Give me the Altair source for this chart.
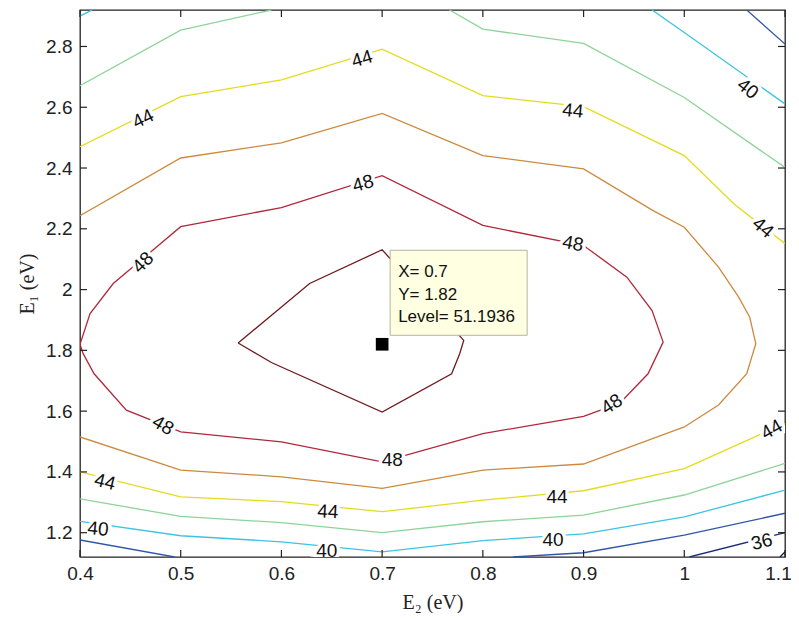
import altair as alt
import pandas as pd

# ---------------- data ----------------
LEVELS = [34, 36, 38, 40, 42, 44, 46, 48, 50]
LEVEL_COLORS = ["#12124e", "#1c2c78", "#2f55a8", "#3cc4e0", "#8ed49a",
                "#e3dc1c", "#cc8a3e", "#b0283a", "#6e1a1e"]

# level 50 (closed, innermost)
C50_X = [0.557, 0.628, 0.700, 0.781, 0.777, 0.769, 0.700, 0.590, 0.557]
C50_Y = [1.824, 2.020, 2.131, 1.833, 1.789, 1.723, 1.597, 1.760, 1.824]
# level 48 (closed, touches left edge)
C48_X = [0.400, 0.410, 0.433, 0.500, 0.600, 0.700, 0.800, 0.900, 0.943, 0.968,
         0.979, 0.964, 0.936, 0.900, 0.800, 0.700, 0.600, 0.500, 0.446, 0.414,
         0.403, 0.400]
C48_Y = [1.820, 1.921, 2.020, 2.207, 2.270, 2.375, 2.211, 2.145, 2.041, 1.931,
         1.827, 1.723, 1.626, 1.583, 1.526, 1.433, 1.499, 1.532, 1.603, 1.723,
         1.790, 1.820]
# level 46 (open, from lower-left round the right to upper-left)
C46_X = [0.400, 0.500, 0.600, 0.700, 0.800, 0.900, 1.000, 1.034, 1.062, 1.071,
         1.065, 1.054, 1.034, 1.000, 0.969, 0.900, 0.800, 0.700, 0.600, 0.500,
         0.400]
C46_Y = [1.515, 1.406, 1.384, 1.346, 1.406, 1.426, 1.548, 1.620, 1.723, 1.822,
         1.909, 1.975, 2.074, 2.205, 2.260, 2.397, 2.441, 2.580, 2.483, 2.433,
         2.243]
# level 44
C44T_X = [0.400, 0.500, 0.600, 0.700, 0.800, 0.900, 1.000, 1.050, 1.100]
C44T_Y = [2.470, 2.635, 2.690, 2.791, 2.638, 2.602, 2.441, 2.280, 2.151]
C44B_X = [0.400, 0.500, 0.600, 0.700, 0.800, 0.900, 1.000, 1.100]
C44B_Y = [1.400, 1.318, 1.302, 1.269, 1.307, 1.338, 1.411, 1.560]
# level 42
C42TL_X = [0.400, 0.500, 0.590]
C42TL_Y = [2.671, 2.854, 2.920]
C42TR_X = [0.767, 0.800, 0.900, 1.000, 1.100]
C42TR_Y = [2.920, 2.857, 2.810, 2.632, 2.402]
C42B_X = [0.400, 0.500, 0.600, 0.700, 0.800, 0.900, 1.000, 1.100]
C42B_Y = [1.311, 1.254, 1.233, 1.200, 1.236, 1.258, 1.324, 1.428]
# level 40
C40TL_X = [0.400, 0.412]
C40TL_Y = [2.900, 2.920]
C40TR_X = [0.968, 1.000, 1.100]
C40TR_Y = [2.920, 2.846, 2.611]
C40B_X = [0.400, 0.500, 0.600, 0.700, 0.800, 0.900, 1.000, 1.100]
C40B_Y = [1.237, 1.190, 1.170, 1.137, 1.174, 1.196, 1.252, 1.340]
# level 38
C38TR_X = [1.062, 1.100]
C38TR_Y = [2.920, 2.808]
C38BL_X = [0.400, 0.494]
C38BL_Y = [1.176, 1.120]
C38BR_X = [0.830, 0.900, 1.000, 1.100]
C38BR_Y = [1.120, 1.134, 1.192, 1.264]
# level 36 and 34 (bottom-right corner)
C36_X = [1.005, 1.100]
C36_Y = [1.120, 1.200]
C34_X = [1.095, 1.100]
C34_Y = [1.120, 1.137]

SEGMENTS = [
    (50, C50_X, C50_Y), (48, C48_X, C48_Y), (46, C46_X, C46_Y),
    (44, C44T_X, C44T_Y), (44, C44B_X, C44B_Y),
    (42, C42TL_X, C42TL_Y), (42, C42TR_X, C42TR_Y), (42, C42B_X, C42B_Y),
    (40, C40TL_X, C40TL_Y), (40, C40TR_X, C40TR_Y), (40, C40B_X, C40B_Y),
    (38, C38TR_X, C38TR_Y), (38, C38BL_X, C38BL_Y), (38, C38BR_X, C38BR_Y),
    (36, C36_X, C36_Y), (34, C34_X, C34_Y),
]

# contour labels
LABEL_TEXT = ["44", "44", "44", "40", "44", "48", "48", "48", "48", "48",
              "48", "44", "40", "44", "40", "44", "40", "44", "36"]
LABEL_X = [0.4626, 0.680, 0.8895, 1.063, 1.078, 0.4626, 0.681, 0.8895, 0.928, 0.4824,
           0.710, 0.4248, 0.418, 0.646, 0.645, 0.8737, 0.8697, 1.0868, 1.077]
LABEL_Y = [2.562, 2.759, 2.588, 2.661, 2.204, 2.089, 2.349, 2.1515, 1.6226, 1.5536,
           1.4387, 1.367, 1.212, 1.269, 1.140, 1.317, 1.176, 1.5395, 1.170]
LABEL_ANGLE = [334, 343, 6, 38, 40, 315, 344, 11, 327, 30,
               0, 14, 5, 3, 0, 0, 0, 330, 346]

# data tip
TIP_X = 0.7
TIP_Y = 1.82
TIP_LEVEL = 51.1936

XTICKS = [0.4, 0.5, 0.6, 0.7, 0.8, 0.9, 1.0, 1.1]
YTICKS = [1.2, 1.4, 1.6, 1.8, 2.0, 2.2, 2.4, 2.6, 2.8]
X_DOMAIN = [0.4, 1.1]
Y_DOMAIN = [1.12, 2.92]

# ---------------- build tables ----------------
rows = []
for sid, (lev, xs, ys) in enumerate(SEGMENTS):
    for i, (x, y) in enumerate(zip(xs, ys)):
        rows.append({"seg": sid, "level": lev, "i": i, "x": x, "y": y})
lines_df = pd.DataFrame(rows)

labels_df = pd.DataFrame({"x": LABEL_X, "y": LABEL_Y, "t": LABEL_TEXT, "a": LABEL_ANGLE})

W, H = 705, 547
px_x = (X_DOMAIN[1] - X_DOMAIN[0]) / W
px_y = (Y_DOMAIN[1] - Y_DOMAIN[0]) / H
box_df = pd.DataFrame({
    "x": [TIP_X + 8 * px_x], "x2": [TIP_X + 145 * px_x],
    "y": [TIP_Y + 9 * px_y], "y2": [TIP_Y + 94 * px_y],
})
tip_df = pd.DataFrame({"x": [TIP_X], "y": [TIP_Y]})
tip_lines = [f"X= {TIP_X:g}", f"Y= {TIP_Y:g}", f"Level= {TIP_LEVEL:g}"]

xt_df = pd.DataFrame({"x": XTICKS})
yt_df = pd.DataFrame({"y": YTICKS})

SANS = "Liberation Sans, Arial, sans-serif"
SERIF = "Liberation Serif, DejaVu Serif, serif"

x_enc = alt.X("x:Q", scale=alt.Scale(domain=X_DOMAIN, nice=False, zero=False),
              axis=alt.Axis(values=XTICKS, format="~g", title="E\u2082 (eV)", ticks=False,
                            domain=False, grid=False, labelFont=SANS, labelFontSize=19,
                            labelColor="#222222", labelPadding=7, labelFlush=False,
                            labelBound=False,
                            labelOffset={"condition": {"test": "datum.value > 1.05", "value": -7},
                                         "value": 0},
                            titleFont=SERIF, titleFontSize=20, titleFontWeight="normal",
                            titleColor="#222222", titleX=352.5, titleY=51,
                            titleAlign="center", titleBaseline="alphabetic"))
y_enc = alt.Y("y:Q", scale=alt.Scale(domain=Y_DOMAIN, nice=False, zero=False),
              axis=alt.Axis(values=YTICKS, format="~g", title="E\u2081 (eV)", ticks=False,
                            domain=False, grid=False, labelFont=SANS, labelFontSize=19,
                            labelColor="#222222", labelPadding=8,
                            titleFont=SERIF, titleFontSize=20, titleFontWeight="normal",
                            titleColor="#222222", titleX=-53, titleY=273.5, titleAngle=270,
                            titleAlign="center", titleBaseline="middle"))

lines = alt.Chart(lines_df).mark_line(strokeWidth=1.3, clip=True).encode(
    x=x_enc, y=y_enc, detail="seg:N", order="i:Q",
    color=alt.Color("level:O", scale=alt.Scale(domain=LEVELS, range=LEVEL_COLORS), legend=None),
)

halo = alt.Chart(labels_df).mark_text(font=SANS, fontSize=19, color="white", stroke="white",
                                      strokeWidth=7, align="center", baseline="middle",
                                      clip=True).encode(
    x=x_enc, y=y_enc, text="t:N", angle=alt.Angle("a:Q", scale=None))
labels = alt.Chart(labels_df).mark_text(font=SANS, fontSize=19, color="#111111",
                                        align="center", baseline="middle", clip=True).encode(
    x=x_enc, y=y_enc, text="t:N", angle=alt.Angle("a:Q", scale=None))

box = alt.Chart(box_df).mark_rect(fill="#ffffe1", stroke="#b4b4a0", strokeWidth=1).encode(
    x=x_enc, x2="x2:Q", y=y_enc, y2="y2:Q")

tip_text_layers = []
for k, line in enumerate(tip_lines):
    tip_text_layers.append(
        alt.Chart(tip_df).mark_text(text=line, font=SANS, fontSize=17, color="#111111",
                                    align="left", baseline="alphabetic",
                                    dx=16, dy=-67 + 22.5 * k).encode(x=x_enc, y=y_enc))

square = alt.Chart(tip_df).mark_square(size=160, color="black", opacity=1, filled=True).encode(
    x=x_enc, y=y_enc)

TICK = 7
tick_bot = alt.Chart(xt_df).mark_rule(color="#222222", strokeWidth=1.2).encode(
    x=x_enc, y=alt.value(H), y2=alt.value(H - TICK))
tick_top = alt.Chart(xt_df).mark_rule(color="#222222", strokeWidth=1.2).encode(
    x=x_enc, y=alt.value(0), y2=alt.value(TICK))
tick_left = alt.Chart(yt_df).mark_rule(color="#222222", strokeWidth=1.2).encode(
    y=y_enc, x=alt.value(0), x2=alt.value(TICK))
tick_right = alt.Chart(yt_df).mark_rule(color="#222222", strokeWidth=1.2).encode(
    y=y_enc, x=alt.value(W), x2=alt.value(W - TICK))

chart = alt.layer(
    lines, halo, labels, box, *tip_text_layers, square,
    tick_bot, tick_top, tick_left, tick_right,
).properties(
    width=W, height=H,
    autosize=alt.AutoSizeParams(type="none"),
    padding={"left": 72, "top": 2, "right": 6, "bottom": 56},
    background="white",
).configure_view(stroke="#222222", strokeWidth=1.3)

chart.save("out.html", embed_options={"renderer": "svg", "actions": False})
